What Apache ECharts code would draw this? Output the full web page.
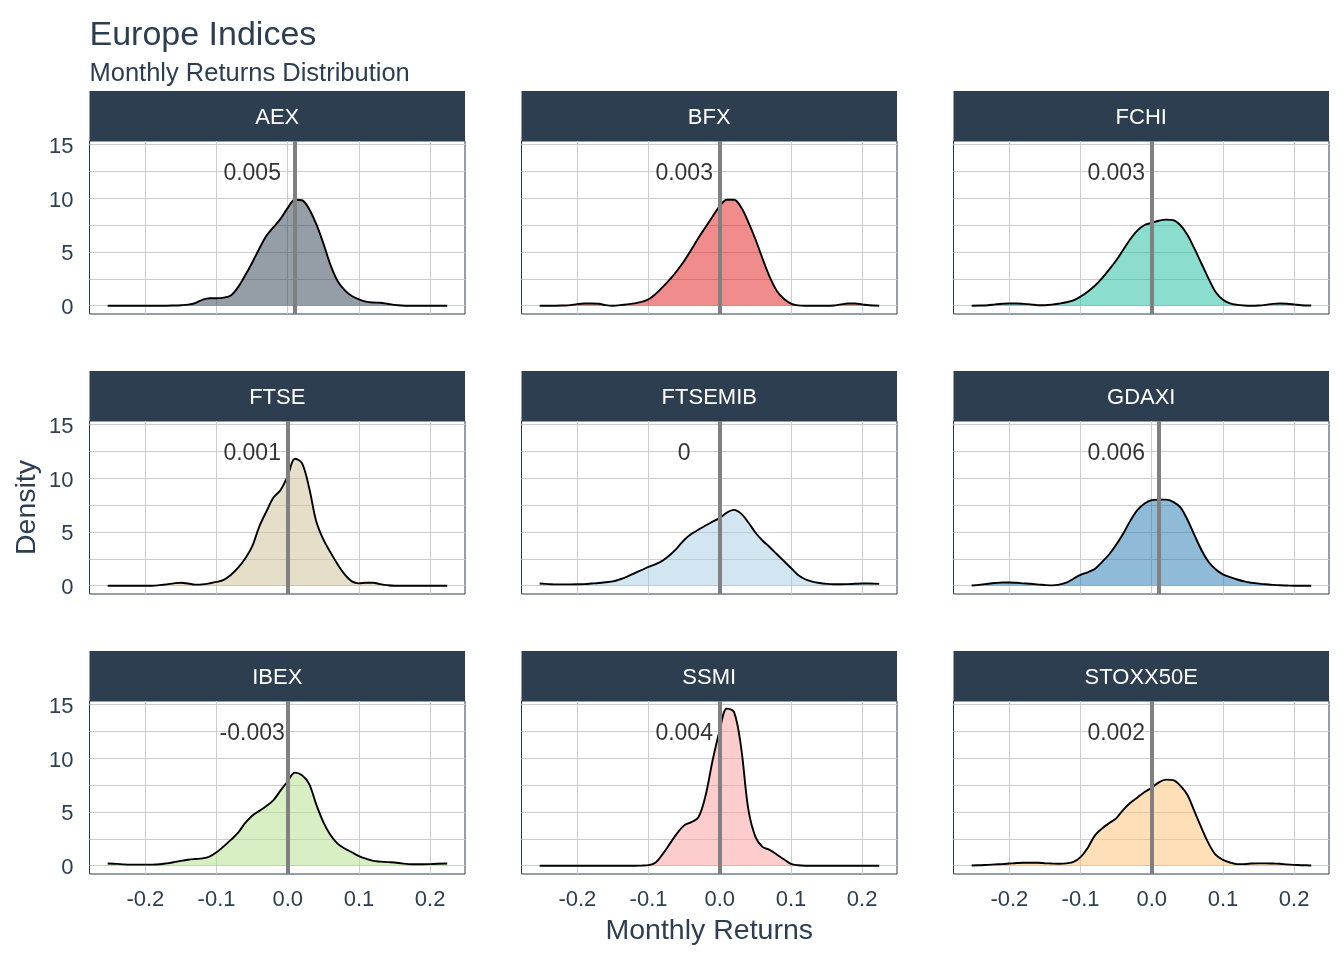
<!DOCTYPE html>
<html><head><meta charset="utf-8">
<script src="https://cdn.jsdelivr.net/npm/echarts@6/dist/echarts.min.js"></script>
<style>html,body{margin:0;padding:0;background:#fff}#c{width:1344px;height:960px}</style>
</head><body><div id="c"></div>
<script>
// ---- data ----
const XS = [-0.253,-0.24,-0.23,-0.22,-0.21,-0.2,-0.19,-0.18,-0.17,-0.16,
  -0.15,-0.14,-0.13,-0.12,-0.11,-0.1,-0.09,-0.08,-0.07,-0.06,
  -0.05,-0.04,-0.03,-0.02,-0.01,0,0.01,0.02,0.03,0.04,
  0.05,0.06,0.07,0.08,0.09,0.1,0.11,0.12,0.13,0.14,
  0.15,0.16,0.17,0.18,0.19,0.2,0.21,0.224];
const INDICES = ['AEX','BFX','FCHI','FTSE','FTSEMIB','GDAXI','IBEX','SSMI','STOXX50E'];
const AEX = [0,0,0,0,0,0,0,0,0,0.02, 0.05,0.1,0.25,0.55,0.7,0.7,0.75,0.95,1.7,2.8, 4.0,5.3,6.5,7.3,8.1,9.1,9.85,9.8,9.0,7.6, 5.8,3.8,2.3,1.45,0.9,0.6,0.38,0.3,0.28,0.18, 0.08,0.02,0,0,0,0,0,0];
const BFX = [0,0,0,0.02,0.05,0.15,0.2,0.2,0.18,0.05, 0.0,0.05,0.12,0.22,0.35,0.6,1.1,1.75,2.45,3.25, 4.15,5.2,6.3,7.3,8.3,9.25,9.85,9.85,9.15,7.8, 6.2,4.4,2.7,1.4,0.65,0.2,0.03,0,0,0, 0,0.02,0.12,0.2,0.2,0.12,0.04,0];
const FCHI = [0,0.02,0.05,0.12,0.18,0.2,0.2,0.17,0.12,0.05, 0.05,0.1,0.2,0.32,0.5,0.85,1.3,1.85,2.55,3.35, 4.2,5.2,6.2,7.0,7.5,7.7,7.9,8.0,7.95,7.5, 6.6,5.3,3.9,2.5,1.25,0.55,0.22,0.08,0.02,0, 0.02,0.08,0.17,0.2,0.18,0.12,0.05,0.02];
const FTSE = [0,0,0,0,0,0,0,0.05,0.12,0.22, 0.28,0.2,0.1,0.12,0.22,0.35,0.55,1.0,1.65,2.5, 3.65,5.5,6.9,8.2,8.9,10.2,11.8,11.4,9.1,6.0, 4.3,3.1,2.0,1.05,0.4,0.22,0.28,0.28,0.15,0.05, 0,0,0,0,0,0,0,0];
const FTSEMIB = [0.2,0.15,0.12,0.12,0.12,0.13,0.15,0.2,0.25,0.32, 0.4,0.6,0.85,1.15,1.45,1.75,2.0,2.35,2.85,3.5, 4.25,4.8,5.2,5.6,5.95,6.3,6.8,7.05,6.7,5.9, 4.95,4.2,3.6,2.95,2.3,1.65,1.0,0.6,0.38,0.25, 0.17,0.13,0.13,0.15,0.18,0.2,0.2,0.17];
const GDAXI = [0.02,0.1,0.18,0.25,0.3,0.3,0.27,0.22,0.18,0.12, 0.07,0.03,0.1,0.28,0.65,1.0,1.25,1.55,2.2,2.9, 3.8,4.85,6.05,7.05,7.65,7.95,8.0,8.0,7.8,7.3, 6.15,4.7,3.3,2.2,1.5,1.05,0.8,0.58,0.4,0.28, 0.2,0.13,0.08,0.04,0.02,0,0,0];
const IBEX = [0.2,0.17,0.12,0.1,0.1,0.1,0.1,0.13,0.22,0.33, 0.45,0.55,0.62,0.68,0.85,1.25,1.8,2.4,3.05,3.95, 4.65,5.1,5.55,6.1,7.0,7.85,8.65,8.4,7.6,5.7, 4.05,2.85,2.05,1.6,1.25,0.9,0.65,0.45,0.38,0.33, 0.3,0.22,0.15,0.13,0.13,0.15,0.18,0.2];
const SSMI = [0,0,0,0,0,0,0,0,0,0, 0,0,0,0,0.01,0.05,0.3,1.1,2.05,3.0, 3.75,4.05,4.5,6.5,9.8,12.6,14.6,14.3,11.0,5.3, 2.7,1.75,1.48,1.05,0.6,0.18,0.04,0,0,0, 0,0,0,0,0,0,0,0];
const STOXX50E = [0.02,0.05,0.08,0.12,0.15,0.2,0.25,0.28,0.28,0.27, 0.23,0.2,0.18,0.22,0.35,0.8,1.65,2.8,3.45,3.95, 4.4,5.2,5.85,6.35,6.85,7.25,7.75,8.0,7.95,7.45, 6.6,5.05,3.5,2.05,1.0,0.55,0.3,0.15,0.15,0.2, 0.22,0.22,0.2,0.18,0.12,0.08,0.05,0.02];
const DENSITY = [AEX, BFX, FCHI, FTSE, FTSEMIB, GDAXI, IBEX, SSMI, STOXX50E];
const MEANS = [0.005, 0.003, 0.003, 0.001, 0, 0.006, -0.003, 0.004, 0.002];
const X_TICKS = [-0.2, -0.1, 0, 0.1, 0.2];
const Y_TICKS = [0, 5, 10, 15];
const FILLS = ['#2c3e50','#e31a1c','#18BC9C','#CCBE93','#a6cee3','#1f78b4','#b2df8a','#fb9a99','#fdbf6f'];
const LABEL_X = -0.05, LABEL_Y = 12.5;

// ---- layout / style ----
const FONT = '"Liberation Sans", Arial, Helvetica, sans-serif';
const TEXT = '#2c3e50';
const GRID_C = '#cccccc';
const COL_LEFT = [89.5, 521.5, 953.5];
const ROW_TOP = [141, 421, 701];
const PW = 375.5, PH = 173, STRIP = 50;
const X_MIN = -0.2785, X_MAX = 0.249, Y_MIN = -0.77, Y_MAX = 15.31;

const grids = [], xAxes = [], yAxes = [], series = [], graphics = [];
INDICES.forEach((name, i) => {
  const r = Math.floor(i / 3), c = i % 3;
  const left = COL_LEFT[c], top = ROW_TOP[r];
  const bottomRow = r === 2, leftCol = c === 0;
  grids.push({left: left, top: top, width: PW, height: PH, show: true,
    borderColor: '#2c3e50', borderWidth: 1, backgroundColor: '#fff', containLabel: false});
  xAxes.push({type: 'value', gridIndex: i, min: X_MIN, max: X_MAX, splitNumber: 5,
    minInterval: 0.1, maxInterval: 0.1,
    axisLine: {show: false},
    axisTick: {show: bottomRow, length: 7, lineStyle: {color: GRID_C, width: 1}, customValues: X_TICKS},
    axisLabel: {show: bottomRow, customValues: X_TICKS, formatter: v => Number(v).toFixed(1),
      color: TEXT, fontSize: 22, fontFamily: FONT, margin: 15},
    splitLine: {show: true, lineStyle: {color: GRID_C, width: 1}}});
  yAxes.push({type: 'value', gridIndex: i, min: Y_MIN, max: Y_MAX, splitNumber: 4,
    minInterval: 5, maxInterval: 5,
    axisLine: {show: false},
    axisTick: {show: leftCol, length: 8, lineStyle: {color: GRID_C, width: 1}, customValues: Y_TICKS},
    axisLabel: {show: leftCol, customValues: Y_TICKS, formatter: v => '{t|' + Math.round(v) + '}',
      color: TEXT, fontSize: 22, fontFamily: FONT, margin: 16,
      rich: {t: {color: TEXT, fontSize: 22, fontFamily: FONT, padding: [5, 0, 0, 0]}}},
    minorTick: {show: false, splitNumber: 2},
    splitLine: {show: true, lineStyle: {color: GRID_C, width: 1}},
    minorSplitLine: {show: true, lineStyle: {color: GRID_C, width: 1}}});
  series.push({type: 'line', xAxisIndex: i, yAxisIndex: i, name: name,
    data: XS.map((x, j) => [x, DENSITY[i][j]]),
    smooth: 0.35, symbol: 'none', showSymbol: false, z: 2,
    lineStyle: {color: '#000', width: 1.9},
    areaStyle: {color: FILLS[i], opacity: 0.5},
    markLine: {silent: true, symbol: ['none', 'none'], label: {show: false},
      lineStyle: {color: '#808080', width: 4, type: 'solid', opacity: 1},
      emphasis: {disabled: true}, data: [{xAxis: MEANS[i]}]}});
  series.push({type: 'scatter', xAxisIndex: i, yAxisIndex: i, z: 10, silent: true,
    symbolSize: 1, itemStyle: {color: 'rgba(0,0,0,0)'},
    data: [[LABEL_X, LABEL_Y]],
    label: {show: true, position: 'inside', formatter: String(MEANS[i]), offset: [0, 2.5],
      color: '#000', fontSize: 23, fontFamily: FONT}});
  graphics.push({type: 'rect', z: 100, silent: true,
    shape: {x: left, y: top - STRIP, width: PW, height: STRIP},
    style: {fill: '#2c3e50'}});
  graphics.push({type: 'text', z: 101, silent: true, x: left + PW / 2, y: top - STRIP / 2 + 2,
    style: {text: name, fill: '#fff', font: '22px ' + FONT, textAlign: 'center', textVerticalAlign: 'middle'}});
});
graphics.push({type: 'text', silent: true, x: 89.5, y: 35.5,
  style: {text: 'Europe Indices', fill: TEXT, font: '34px ' + FONT, textAlign: 'left', textVerticalAlign: 'middle'}});
graphics.push({type: 'text', silent: true, x: 89.5, y: 73.5,
  style: {text: 'Monthly Returns Distribution', fill: TEXT, font: '25.5px ' + FONT, textAlign: 'left', textVerticalAlign: 'middle'}});
graphics.push({type: 'text', silent: true, x: COL_LEFT[1] + PW / 2, y: 931.5,
  style: {text: 'Monthly Returns', fill: TEXT, font: '28.5px ' + FONT, textAlign: 'center', textVerticalAlign: 'middle'}});
graphics.push({type: 'text', silent: true, x: 27, y: ROW_TOP[1] + PH / 2, rotation: Math.PI / 2,
  style: {text: 'Density', fill: TEXT, font: '28.5px ' + FONT, textAlign: 'center', textVerticalAlign: 'middle'}});

const chart = echarts.init(document.getElementById('c'), null, {renderer: 'canvas'});
chart.setOption({
  backgroundColor: '#fff', animation: false, tooltip: {show: false},
  grid: grids, xAxis: xAxes, yAxis: yAxes, series: series, graphic: {elements: graphics}
});
</script></body></html>
